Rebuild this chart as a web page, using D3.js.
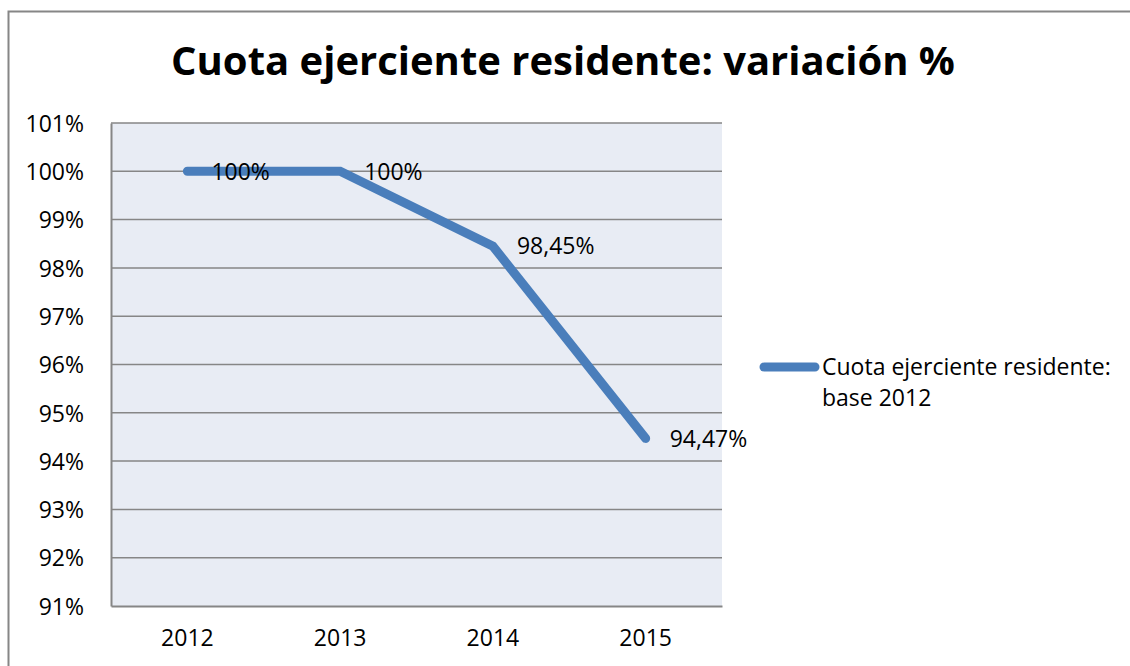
<!DOCTYPE html>
<script src="https://d3js.org/d3.v7.min.js"></script>
<html>
<style>
    body {
        margin: 0;
        background: white;
        font-family: "Open Sans", sans-serif;
    }
    .grid line {
        stroke: #868686;
        stroke-width: 1.5px;
    }
    .axis text {
        font-family: "Open Sans", sans-serif;
        font-size: 23px;
        fill: #000;
    }
    .label {
        font-size: 23px;
    }
</style>
<body>
<script>

var width = 1130,
    height = 666;

var margin = {top: 123, right: 408, bottom: 60, left: 111};
var plot_w = width - margin.left - margin.right,
    plot_h = height - margin.top - margin.bottom;

// valores relativos a 2012 (%)
var data = [
    {year: "2012", value: 100, label: "100%"},
    {year: "2013", value: 100, label: "100%"},
    {year: "2014", value: 98.45, label: "98,45%"},
    {year: "2015", value: 94.47, label: "94,47%"}
];

var svg = d3.select("body").append("svg")
    .attr("width", width)
    .attr("height", height);

// marco exterior
svg.append("path")
    .attr("d", "M8.5," + height + "V11.5H" + width)
    .style("fill", "none")
    .style("stroke", "#868686")
    .style("stroke-width", 2);

svg.append("text")
    .attr("x", 563)
    .attr("y", 75)
    .attr("text-anchor", "middle")
    .style("font-size", "40px")
    .style("font-weight", "bold")
    .text("Cuota ejerciente residente: variación %");

var g = svg.append("g")
    .attr("transform", "translate(" + margin.left + "," + margin.top + ")");

var x = d3.scaleBand()
    .domain(data.map(function(d) { return d.year; }))
    .range([0, plot_w]);

var y = d3.scaleLinear()
    .domain([91, 101])
    .range([plot_h, 0]);

g.append("rect")
    .attr("width", plot_w)
    .attr("height", plot_h)
    .style("fill", "#e8ecf4");

g.append("g")
    .attr("class", "grid")
    .selectAll("line")
    .data(d3.range(92, 102))
    .enter().append("line")
    .attr("x1", 0)
    .attr("x2", plot_w)
    .attr("y1", function(d) { return y(d); })
    .attr("y2", function(d) { return y(d); });

// ejes
var yAxis = g.append("g")
    .attr("class", "axis")
    .call(d3.axisLeft(y).tickValues(d3.range(91, 102)).tickSize(0).tickPadding(27)
        .tickFormat(function(d) { return d + "%"; }));
yAxis.select(".domain").style("stroke", "#868686").style("stroke-width", 2);
yAxis.selectAll("text").attr("dy", "0.36em");

var xAxis = g.append("g")
    .attr("class", "axis")
    .attr("transform", "translate(0," + plot_h + ")")
    .call(d3.axisBottom(x).tickSize(0).tickPadding(24));
xAxis.select(".domain").style("stroke", "#868686").style("stroke-width", 2);

var line = d3.line()
    .x(function(d) { return x(d.year) + x.bandwidth() / 2; })
    .y(function(d) { return y(d.value); });

g.append("path")
    .datum(data)
    .attr("d", line)
    .style("fill", "none")
    .style("stroke", "#4a7ebb")
    .style("stroke-width", 9)
    .style("stroke-linecap", "round")
    .style("stroke-linejoin", "miter");

g.selectAll(".label")
    .data(data)
    .enter().append("text")
    .attr("class", "label")
    .attr("x", function(d) { return x(d.year) + x.bandwidth() / 2 + 24; })
    .attr("y", function(d) { return y(d.value); })
    .attr("dy", "0.36em")
    .text(function(d) { return d.label; });

// leyenda
var legend = svg.append("g")
    .attr("class", "legend");

legend.append("line")
    .attr("x1", 764)
    .attr("x2", 815)
    .attr("y1", 367)
    .attr("y2", 367)
    .style("stroke", "#4a7ebb")
    .style("stroke-width", 9)
    .style("stroke-linecap", "round");

legend.append("text")
    .attr("class", "label")
    .attr("x", 822)
    .attr("y", 375)
    .text("Cuota ejerciente residente:");

legend.append("text")
    .attr("class", "label")
    .attr("x", 822)
    .attr("y", 406)
    .text("base 2012");

</script>
</body></html>
